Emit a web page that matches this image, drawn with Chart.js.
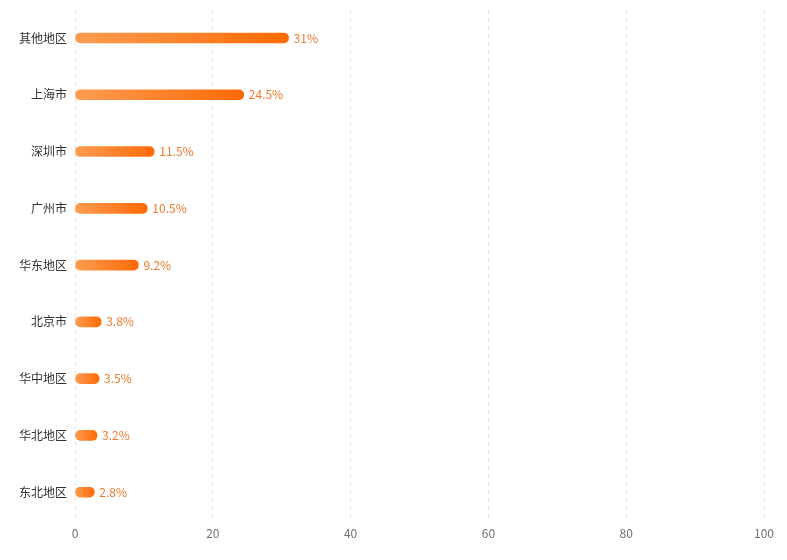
<!DOCTYPE html>
<html>
<head>
<meta charset="utf-8">
<script src="https://cdn.jsdelivr.net/npm/chart.js@4.4.1/dist/chart.umd.min.js"></script>
<style>
  html, body { margin: 0; padding: 0; background: #ffffff; }
  #wrap { width: 787px; height: 560px; }
</style>
</head>
<body>
<div id="wrap"><canvas id="c" width="787" height="560"></canvas></div>
<script>
const regions = ['其他地区', '上海市', '深圳市', '广州市', '华东地区', '北京市', '华中地区', '华北地区', '东北地区'];
const shares = [31, 24.5, 11.5, 10.5, 9.2, 3.8, 3.5, 3.2, 2.8];
const xTicks = [0, 20, 40, 60, 80, 100];

const FONT = '"Noto Sans CJK SC", "Noto Sans", sans-serif';

// Each bar gets its own left-to-right gradient, from the zero line to its end.
function barFill(ctx) {
  const chart = ctx.chart;
  const area = chart.chartArea;
  if (!area || ctx.type !== 'data') return '#fb8a3a';
  const xs = chart.scales.x;
  const x0 = xs.getPixelForValue(0);
  const x1 = xs.getPixelForValue(ctx.raw);
  const g = chart.ctx.createLinearGradient(x0, 0, Math.max(x1, x0 + 1), 0);
  g.addColorStop(0, '#fb9d52');
  g.addColorStop(1, '#fe6a05');
  return g;
}

// Value labels written just past the end of every bar.
const valueLabels = {
  id: 'valueLabels',
  afterDatasetsDraw(chart) {
    const c = chart.ctx;
    const meta = chart.getDatasetMeta(0);
    c.save();
    c.font = '12px ' + FONT;
    c.fillStyle = '#ee7a2c';
    c.textAlign = 'left';
    c.textBaseline = 'middle';
    meta.data.forEach((bar, i) => {
      c.fillText(shares[i] + '%', bar.x + 5, bar.y);
    });
    c.restore();
  }
};

// Let the outer layout padding alone decide where the plot area sits.
function noLabelPadding(scale) {
  scale.paddingTop = 0;
  scale.paddingBottom = 0;
  scale.paddingLeft = 0;
  scale.paddingRight = 0;
}

new Chart(document.getElementById('c'), {
  type: 'bar',
  data: {
    labels: regions,
    datasets: [{
      data: shares,
      backgroundColor: barFill,
      barThickness: 10,
      borderRadius: 5,
      borderSkipped: false
    }]
  },
  options: {
    indexAxis: 'y',
    responsive: false,
    animation: false,
    layout: { padding: { top: 9.6, right: 23, bottom: 13, left: 11 } },
    plugins: { legend: { display: false }, tooltip: { enabled: false } },
    scales: {
      x: {
        min: 0,
        max: 100,
        afterBuildTicks(axis) { axis.ticks = xTicks.map(v => ({ value: v })); },
        afterFit: noLabelPadding,
        grid: { color: '#e3e3e3', drawTicks: false, lineWidth: 1 },
        border: { display: false, dash: [4, 4] },
        ticks: { color: '#707070', font: { size: 12, family: FONT }, padding: 6 }
      },
      y: {
        afterFit: noLabelPadding,
        grid: { display: false, drawTicks: false },
        border: { display: false },
        ticks: { color: '#333333', font: { size: 12, family: FONT }, padding: 8 }
      }
    }
  },
  plugins: [valueLabels]
});
</script>
</body>
</html>
